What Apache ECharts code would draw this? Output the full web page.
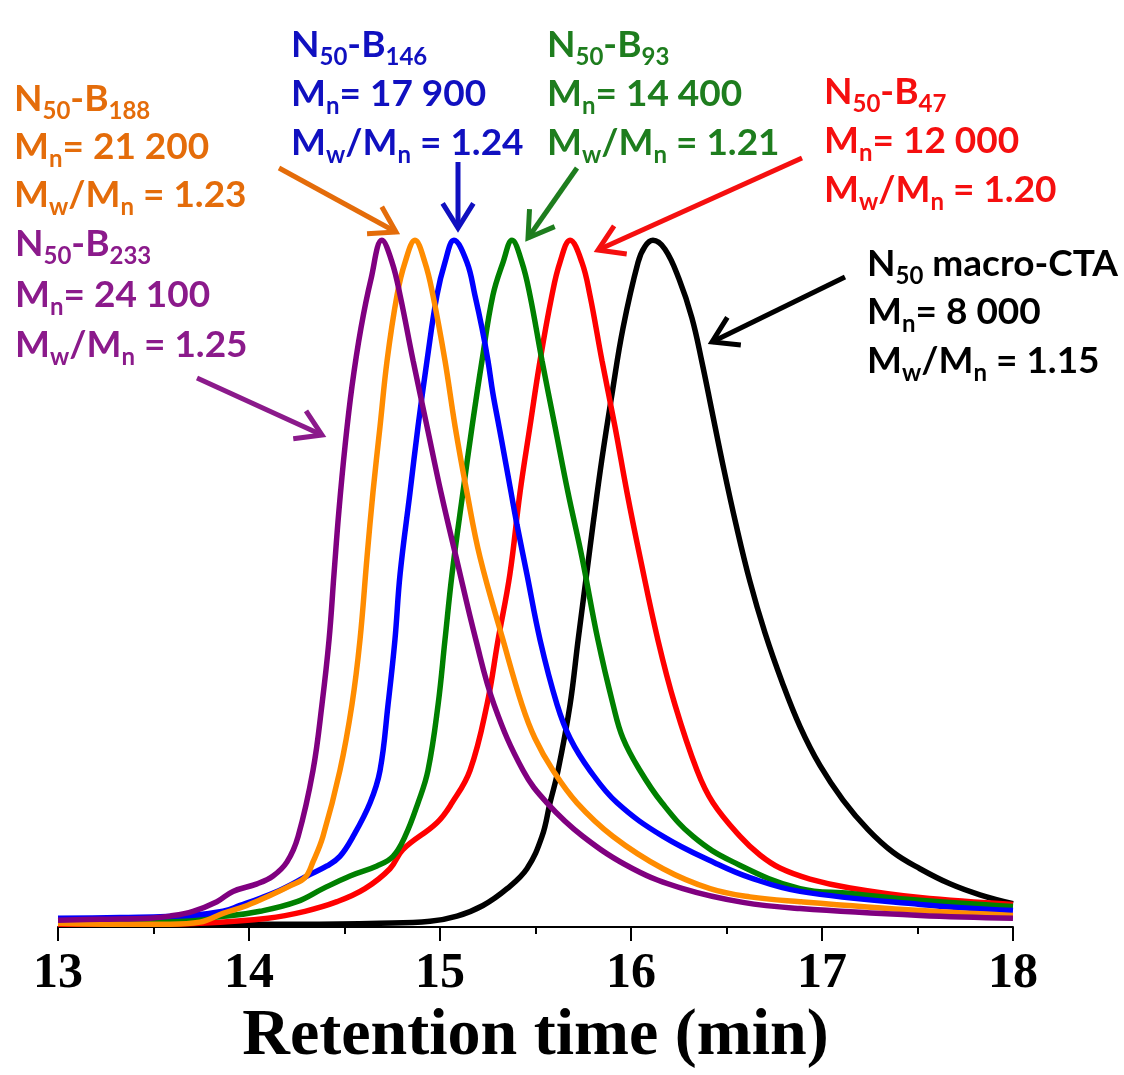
<!DOCTYPE html>
<html><head><meta charset="utf-8">
<script src="https://cdn.jsdelivr.net/npm/echarts@6/dist/echarts.min.js"></script>
<style>html,body{margin:0;padding:0;background:#fff}#c{width:1124px;height:1075px}</style>
</head><body><div id="c"></div>
<script>
// ---- data (retention time in min, normalized detector signal) ----
const xTicks = [13, 14, 15, 16, 17, 18];

const purpleTime = [13.000,13.220,13.482,13.586,13.707,13.832,13.916,14.042,14.126,14.199,14.257,14.335,14.382,14.419,14.445,14.471,14.503,14.539,14.586,14.639,14.696,14.749,14.791,14.859,14.932,15.005,15.084,15.188,15.283,15.435,15.560,15.749,16.010,16.272,16.586,16.885,17.513,18.000];
const purpleSignal = [0.010,0.0115,0.013,0.016,0.023,0.037,0.052,0.063,0.0745,0.095,0.132,0.228,0.324,0.418,0.514,0.607,0.701,0.787,0.872,0.944,1.000,0.968,0.920,0.825,0.729,0.633,0.539,0.418,0.324,0.228,0.181,0.132,0.085,0.056,0.036,0.027,0.017,0.013];

const orangeTime = [13.000,13.325,13.586,13.743,13.864,13.990,14.110,14.215,14.293,14.335,14.387,14.476,14.539,14.581,14.618,14.649,14.686,14.723,14.775,14.817,14.869,14.921,14.963,15.026,15.079,15.141,15.209,15.330,15.429,15.497,15.592,15.717,15.906,16.168,16.414,16.623,16.885,17.513,18.000];
const orangeSignal = [0.0057,0.0043,0.0043,0.0072,0.020,0.0315,0.046,0.060,0.072,0.095,0.132,0.228,0.324,0.418,0.539,0.633,0.729,0.825,0.920,0.968,1.000,0.968,0.920,0.825,0.729,0.633,0.539,0.418,0.324,0.275,0.228,0.181,0.132,0.085,0.056,0.044,0.037,0.024,0.017];

const blueTime = [13.000,13.325,13.691,13.864,13.953,14.058,14.178,14.304,14.408,14.476,14.545,14.634,14.686,14.728,14.764,14.791,14.843,14.885,14.932,14.984,15.026,15.073,15.141,15.183,15.220,15.251,15.277,15.309,15.340,15.372,15.403,15.455,15.524,15.613,15.681,15.785,15.927,16.168,16.450,16.623,16.885,17.513,18.000];
const blueSignal = [0.013,0.014,0.017,0.023,0.0315,0.042,0.056,0.0745,0.089,0.103,0.132,0.181,0.228,0.324,0.418,0.514,0.633,0.729,0.825,0.920,0.968,1.000,0.968,0.920,0.872,0.825,0.777,0.729,0.682,0.633,0.586,0.514,0.418,0.324,0.275,0.228,0.181,0.132,0.092,0.072,0.052,0.033,0.024];

const greenTime = [13.000,13.482,13.885,14.058,14.251,14.387,14.529,14.670,14.754,14.817,14.885,14.937,14.990,15.026,15.063,15.120,15.168,15.220,15.277,15.330,15.377,15.429,15.471,15.534,15.602,15.670,15.743,15.827,15.906,15.958,16.047,16.162,16.325,16.534,16.885,17.147,17.513,18.000];
const greenSignal = [0.0086,0.0086,0.016,0.023,0.037,0.056,0.0745,0.089,0.103,0.132,0.181,0.228,0.324,0.418,0.514,0.633,0.729,0.825,0.920,0.968,1.000,0.968,0.920,0.825,0.729,0.633,0.539,0.418,0.324,0.275,0.228,0.181,0.132,0.095,0.056,0.049,0.039,0.030];

const redTime = [13.000,13.482,13.743,14.099,14.293,14.461,14.607,14.738,14.806,14.984,15.063,15.157,15.246,15.304,15.366,15.419,15.471,15.524,15.586,15.628,15.681,15.743,15.785,15.848,15.916,15.979,16.047,16.141,16.230,16.346,16.429,16.571,16.675,16.780,16.937,17.147,17.513,18.000];
const redSignal = [0.0043,0.0043,0.0057,0.013,0.023,0.037,0.056,0.085,0.113,0.152,0.181,0.228,0.324,0.418,0.514,0.633,0.729,0.825,0.920,0.968,1.000,0.968,0.920,0.825,0.729,0.633,0.539,0.418,0.324,0.228,0.181,0.132,0.105,0.086,0.070,0.057,0.043,0.033];

const blackTime = [13.000,14.267,14.686,14.948,15.089,15.225,15.351,15.455,15.534,15.576,15.618,15.681,15.723,15.770,15.801,15.848,15.901,15.958,16.037,16.073,16.115,16.178,16.251,16.319,16.372,16.424,16.482,16.550,16.623,16.702,16.791,16.885,16.990,17.110,17.241,17.372,17.513,17.670,17.827,18.000];
const blackSignal = [0.0043,0.0043,0.0057,0.0086,0.016,0.0315,0.056,0.085,0.132,0.181,0.228,0.324,0.418,0.519,0.586,0.682,0.777,0.872,0.968,0.991,1.000,0.987,0.944,0.887,0.822,0.751,0.672,0.586,0.503,0.428,0.357,0.292,0.235,0.185,0.142,0.109,0.085,0.063,0.047,0.034];

const seriesNames = ['N50 macro-CTA','N50-B47','N50-B93','N50-B146','N50-B188','N50-B233'];

function zip(t, v) { return t.map((x, i) => [x, v[i]]); }

const chart = echarts.init(document.getElementById('c'), null, {renderer: 'canvas'});

const FONT = 'Lato';
const MAIN = 37, SUB = 24;
function textLine(x, baseline, str, color) {
  return {
    type: 'text', x: x, y: baseline - 31, z: 100,
    style: {
      text: str, fill: color, fontFamily: FONT, fontWeight: 'bold', fontSize: MAIN,
      lineHeight: 40, align: 'left', verticalAlign: 'top',
      rich: { s: { fontFamily: FONT, fontWeight: 'bold', fontSize: SUB, fill: color, lineHeight: 40, padding: [24, 0, 0, 0] } }
    }
  };
}
function arrow(x1, y1, x2, y2, color) {
  const ang = Math.atan2(y1 - y2, x1 - x2);
  const L = 29, a = 32 * Math.PI / 180;
  const w1 = [x2 + L * Math.cos(ang + a), y2 + L * Math.sin(ang + a)];
  const w2 = [x2 + L * Math.cos(ang - a), y2 + L * Math.sin(ang - a)];
  return [
    { type: 'line', z: 100, shape: { x1: x1, y1: y1, x2: x2, y2: y2 }, style: { stroke: color, lineWidth: 5 } },
    { type: 'polyline', z: 100, shape: { points: [w1, [x2, y2], w2] }, style: { stroke: color, lineWidth: 5, fill: null, lineJoin: 'miter' } }
  ];
}

const cOrange = '#E46C0A', cBlue = '#1010C0', cGreen = '#1E7D1E', cRed = '#F50F0F', cPurple = '#8B1A8B', cBlack = '#000000';

const graphics = [
  textLine(14, 110, 'N{s|50}-B{s|188}', cOrange),
  textLine(14, 158, 'M{s|n}= 21 200', cOrange),
  textLine(14, 206, 'M{s|w}/M{s|n} = 1.23', cOrange),
  textLine(291, 56, 'N{s|50}-B{s|146}', cBlue),
  textLine(291, 105, 'M{s|n}= 17 900', cBlue),
  textLine(291, 154, 'M{s|w}/M{s|n} = 1.24', cBlue),
  textLine(547, 56, 'N{s|50}-B{s|93}', cGreen),
  textLine(547, 105, 'M{s|n}= 14 400', cGreen),
  textLine(547, 154, 'M{s|w}/M{s|n} = 1.21', cGreen),
  textLine(824, 103, 'N{s|50}-B{s|47}', cRed),
  textLine(824, 152, 'M{s|n}= 12 000', cRed),
  textLine(824, 201, 'M{s|w}/M{s|n} = 1.20', cRed),
  textLine(15, 255, 'N{s|50}-B{s|233}', cPurple),
  textLine(15, 306, 'M{s|n}= 24 100', cPurple),
  textLine(15, 356, 'M{s|w}/M{s|n} = 1.25', cPurple),
  textLine(867, 275, 'N{s|50} macro-CTA', cBlack),
  textLine(867, 323, 'M{s|n}= 8 000', cBlack),
  textLine(867, 372, 'M{s|w}/M{s|n} = 1.15', cBlack)
].concat(
  arrow(279, 168, 396, 232, cOrange),
  arrow(458, 162, 458, 228, cBlue),
  arrow(577, 168, 528, 238, cGreen),
  arrow(802, 158, 598, 250, cRed),
  arrow(845, 277, 712, 342, cBlack),
  arrow(197, 378, 322, 435, cPurple)
);

function line(name, t, v, color, z) {
  return {
    name: name, type: 'line', data: zip(t, v), showSymbol: false, smooth: 0.4,
    lineStyle: { width: 5.5, color: color }, itemStyle: { color: color }, z: z, silent: true
  };
}

chart.setOption({
  animation: false,
  backgroundColor: '#ffffff',
  grid: { left: 58, right: 111, top: 206, bottom: 136, containLabel: false },
  xAxis: {
    type: 'value', min: xTicks[0], max: xTicks[xTicks.length - 1], interval: 1,
    axisLine: { show: true, lineStyle: { color: '#000', width: 2 } },
    axisTick: { show: true, inside: false, length: 14, lineStyle: { color: '#000', width: 2 } },
    minorTick: { show: true, splitNumber: 2, length: 7, lineStyle: { color: '#000', width: 2 } },
    splitLine: { show: false },
    axisLabel: { color: '#000', fontFamily: 'Liberation Serif', fontWeight: 'bold', fontSize: 50, margin: 22, showMinLabel: true, showMaxLabel: true },
    name: 'Retention time (min)', nameLocation: 'middle', nameGap: 72,
    nameTextStyle: { color: '#000', fontFamily: 'Liberation Serif', fontWeight: 'bold', fontSize: 66 }
  },
  yAxis: { type: 'value', min: 0, max: 1.05, show: false },
  series: [
    line(seriesNames[0], blackTime, blackSignal, '#000000', 2),
    line(seriesNames[1], redTime, redSignal, '#FF0000', 3),
    line(seriesNames[2], greenTime, greenSignal, '#008000', 4),
    line(seriesNames[3], blueTime, blueSignal, '#0000FF', 5),
    line(seriesNames[4], orangeTime, orangeSignal, '#FF8C00', 6),
    line(seriesNames[5], purpleTime, purpleSignal, '#800080', 7)
  ],
  graphic: graphics
});
</script></body></html>
